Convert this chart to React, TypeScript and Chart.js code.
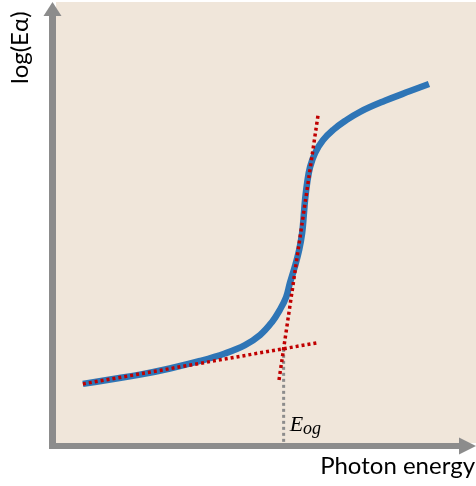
import React, { useEffect, useRef } from "react";
import { Chart, registerables } from "chart.js";

Chart.register(...registerables);

// Absorption curve (arbitrary units): photon energy vs log(Eα)
const curveX = [0.64, 1.29, 2.0, 2.71, 3.43, 4.02, 4.5, 4.86, 5.14, 5.33, 5.48, 5.57, 5.69, 5.79, 5.86, 5.9, 5.93, 5.98, 6.05, 6.17, 6.36, 6.6, 6.88, 7.24, 7.83, 8.43, 8.88];
const curveY = [1.34, 1.44, 1.55, 1.69, 1.86, 2.03, 2.22, 2.45, 2.74, 3.02, 3.31, 3.63, 4.01, 4.38, 4.76, 5.17, 5.51, 5.9, 6.26, 6.58, 6.87, 7.1, 7.3, 7.51, 7.76, 7.98, 8.14];

// Tangent (steep) line and baseline (shallow) line
const steepX = [5.31, 6.24];
const steepY = [1.43, 7.44];
const shallowX = [0.64, 6.21];
const shallowY = [1.34, 2.27];

// Optical gap marker
const eogX = 5.42;
const eogY = 2.135;

const xLabel = "Photon energy";
const yLabel = "log(Eα)";

const BG = "#F0E6DA";
const GRAY = "#8C8C8C";
const BLUE = "#2E75B6";
const RED = "#C00000";

const zip = (xs: number[], ys: number[]) => xs.map((x, i) => ({ x, y: ys[i] }));

export default function App() {
  const ref = useRef<HTMLCanvasElement | null>(null);

  useEffect(() => {
    document.body.style.margin = "0";
    const canvas = ref.current;
    if (!canvas) return;

    const decor = {
      id: "decor",
      beforeDraw(chart: any) {
        const { ctx, chartArea: a } = chart;
        ctx.save();
        ctx.fillStyle = BG;
        ctx.fillRect(a.left, a.top, a.right - a.left, a.bottom - a.top);
        ctx.restore();
      },
      afterDraw(chart: any) {
        const { ctx, chartArea: a, scales } = chart;
        ctx.save();
        ctx.fillStyle = GRAY;
        // y axis
        const yx = a.left - 3.5;
        ctx.fillRect(a.left - 7, a.top + 12, 7, a.bottom - a.top - 12 + 6);
        ctx.beginPath();
        ctx.moveTo(yx, a.top);
        ctx.lineTo(yx - 9, a.top + 14);
        ctx.lineTo(yx + 9, a.top + 14);
        ctx.closePath();
        ctx.fill();
        // x axis
        const xy = a.bottom + 3;
        ctx.fillRect(a.left - 7, a.bottom, a.right - a.left - 17 + 7, 6);
        ctx.beginPath();
        ctx.moveTo(a.right, xy);
        ctx.lineTo(a.right - 17, xy - 8.5);
        ctx.lineTo(a.right - 17, xy + 8.5);
        ctx.closePath();
        ctx.fill();

        // axis labels
        ctx.fillStyle = "#000";
        ctx.font = "24px Lato";
        ctx.textAlign = "right";
        ctx.textBaseline = "alphabetic";
        ctx.fillText(xLabel, a.right - 1, a.bottom + 31);

        ctx.save();
        ctx.translate(28, 84);
        ctx.rotate(-Math.PI / 2);
        ctx.textAlign = "left";
        ctx.fillText(yLabel, 0, 0);
        ctx.restore();

        // E_og label
        const px = scales.x.getPixelForValue(eogX) + 6;
        const py = a.bottom - 12;
        ctx.textAlign = "left";
        ctx.font = "italic 22px 'Liberation Serif'";
        ctx.fillText("E", px, py);
        const w = ctx.measureText("E").width;
        ctx.font = "italic 18px 'Liberation Serif'";
        ctx.fillText("og", px + w, py + 3);
        ctx.restore();
      },
    };

    const chart = new Chart(canvas, {
      type: "scatter",
      data: {
        datasets: [
          {
            data: zip(steepX, steepY),
            showLine: true,
            borderColor: RED,
            borderWidth: 3.5,
            borderDash: [3, 3],
            pointRadius: 0,
            order: 0,
          },
          {
            data: zip(shallowX, shallowY),
            showLine: true,
            borderColor: RED,
            borderWidth: 3.5,
            borderDash: [3, 3],
            pointRadius: 0,
            order: 0,
          },
          {
            data: [
              { x: eogX, y: eogY },
              { x: eogX, y: 0 },
            ],
            showLine: true,
            borderColor: GRAY,
            borderWidth: 3,
            borderDash: [3, 3],
            pointRadius: 0,
            order: 2,
          },
          {
            data: zip(curveX, curveY),
            showLine: true,
            borderColor: BLUE,
            borderWidth: 6.5,
            tension: 0.4,
            pointRadius: 0,
            borderCapStyle: "butt",
            order: 1,
          },
        ],
      },
      options: {
        responsive: false,
        animation: false,
        devicePixelRatio: 1,
        layout: { padding: { left: 56, top: 2, right: 0, bottom: 43 } },
        plugins: { legend: { display: false }, tooltip: { enabled: false } },
        scales: {
          x: { type: "linear", min: 0, max: 10, display: false },
          y: { type: "linear", min: 0, max: 10, display: false },
        },
      },
      plugins: [decor],
    } as any);

    return () => chart.destroy();
  }, []);

  return <canvas ref={ref} width={476} height={486} style={{ display: "block" }} />;
}
